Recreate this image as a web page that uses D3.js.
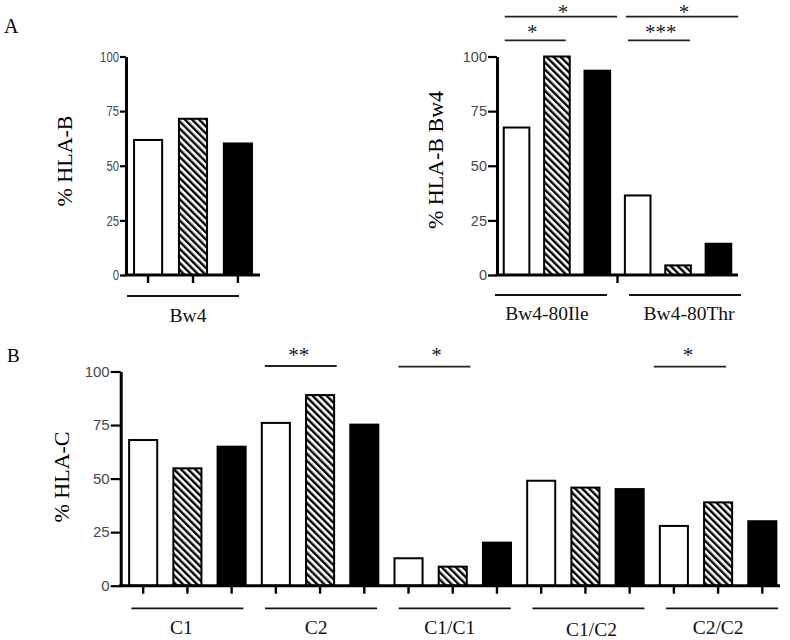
<!DOCTYPE html>
<html><head><meta charset="utf-8">
<script src="https://cdn.jsdelivr.net/npm/d3@7"></script>
<style>body{margin:0;background:#fff}</style>
</head><body>
<svg id="chart" width="790" height="640" xmlns="http://www.w3.org/2000/svg"></svg>
<script>
// ---------- data ----------
const yTicks = [0, 25, 50, 75, 100];
const seriesKeys = ["white", "hatched", "black"];

const groupsA1 = ["Bw4"];
const whiteA1 = [61.8];
const hatchedA1 = [71.5];
const blackA1 = [60.2];

const groupsA2 = ["Bw4-80Ile", "Bw4-80Thr"];
const whiteA2 = [67.5, 36.4];
const hatchedA2 = [100, 4.4];
const blackA2 = [93.5, 14.3];

const groupsB = ["C1", "C2", "C1/C1", "C1/C2", "C2/C2"];
const whiteB = [68.0, 76.0, 12.8, 49.0, 27.9];
const hatchedB = [54.8, 89.0, 8.9, 45.8, 38.9];
const blackB = [64.9, 75.2, 20.1, 45.1, 30.1];

// significance marks: bar index range (from..to) and text
const sigTextA2 = ["*", "*", "*", "***"];
const sigFromA2 = [0, 0, 3, 3];
const sigToA2 = [2, 1, 5, 4];
const sigTextB = ["**", "*", "*"];
const sigFromB = [3, 6, 12];
const sigToB = [4, 7, 13];

// ---------- layout ----------
const svg = d3.select("#chart");
svg.append("rect").attr("width", 790).attr("height", 640).attr("fill", "#fff");

const defs = svg.append("defs");
const pat = defs.append("pattern").attr("id", "hatch")
  .attr("patternUnits", "userSpaceOnUse").attr("width", 5).attr("height", 5)
  .attr("patternTransform", "rotate(-45)");
pat.append("rect").attr("width", 5).attr("height", 5).attr("fill", "#fff");
pat.append("rect").attr("x", 0).attr("y", 0).attr("width", 2.4).attr("height", 5).attr("fill", "#000");

const serif = "'Liberation Serif','Times New Roman',serif";
const sans = "'Liberation Sans',Arial,sans-serif";

function drawPanel(cfg) {
  const g = svg.append("g");
  const keys = [];
  const bars = [];
  cfg.groups.forEach((grp, gi) => {
    seriesKeys.forEach((s, si) => {
      const k = grp + "|" + s;
      keys.push(k);
      bars.push({ key: k, series: s, value: cfg.series[si][gi] });
    });
  });
  const x = d3.scaleBand().domain(keys).range(cfg.bandRange)
    .paddingInner(cfg.pi).paddingOuter(cfg.po);
  const y = d3.scaleLinear().domain([0, 100]).range(cfg.yPx);
  const bw = x.bandwidth();

  // bars
  g.selectAll("rect.bar").data(bars).enter().append("rect")
    .attr("class", "bar")
    .attr("x", d => x(d.key) + 1)
    .attr("width", bw - 2)
    .attr("y", d => y(d.value))
    .attr("height", d => y(0) - y(d.value))
    .attr("fill", d => d.series === "white" ? "#fff" : d.series === "black" ? "#000" : "url(#hatch)")
    .attr("stroke", "#000").attr("stroke-width", 2);

  // y axis
  const ya = g.append("g").attr("transform", `translate(${cfg.axisX},0)`)
    .call(d3.axisLeft(y).tickValues(yTicks).tickSize(cfg.tickSize).tickSizeOuter(0).tickPadding(cfg.tickPad));
  ya.select(".domain").attr("stroke", "#000").attr("stroke-width", 3);
  ya.selectAll(".tick line").attr("stroke", "#000").attr("stroke-width", 2.2);
  ya.selectAll(".tick text").attr("fill", "#484848")
    .style("font-family", sans).style("font-size", cfg.tickFont + "px");
  if (cfg.squeeze) {
    ya.selectAll(".tick text")
      .attr("textLength", d => String(d).length * cfg.squeeze)
      .attr("lengthAdjust", "spacingAndGlyphs");
  }

  // x axis line
  g.append("line").attr("x1", cfg.axisX - 1.5).attr("x2", cfg.xEnd)
    .attr("y1", y(0)).attr("y2", y(0)).attr("stroke", "#000").attr("stroke-width", 3);

  // bottom ticks
  if (cfg.barTicks) {
    const xa = g.append("g").attr("transform", `translate(0,${y(0)})`)
      .call(d3.axisBottom(x).tickSize(8).tickFormat(""));
    xa.select(".domain").remove();
    xa.selectAll(".tick line").attr("stroke", "#000").attr("stroke-width", 2.4);
  } else {
    for (let gi = 1; gi < cfg.groups.length; gi++) {
      const prevEnd = x(cfg.groups[gi - 1] + "|black") + bw;
      const nextStart = x(cfg.groups[gi] + "|white");
      const tx = (prevEnd + nextStart) / 2;
      g.append("line").attr("x1", tx).attr("x2", tx).attr("y1", y(0)).attr("y2", y(0) + 8)
        .attr("stroke", "#000").attr("stroke-width", 2.4);
    }
  }

  // group lines and labels
  cfg.groups.forEach((grp, gi) => {
    const c = (x(grp + "|white") + x(grp + "|black") + bw) / 2;
    const lc = c + cfg.lineDx[gi];
    g.append("line").attr("x1", lc - 56).attr("x2", lc + 56)
      .attr("y1", cfg.lineY).attr("y2", cfg.lineY).attr("stroke", "#111").attr("stroke-width", 1.8);
    g.append("text").attr("x", c + cfg.labelDx[gi]).attr("y", cfg.labelY + (cfg.labelDy ? cfg.labelDy[gi] : 0))
      .attr("text-anchor", "middle").style("font-family", serif).style("font-size", "19.5px")
      .attr("fill", "#111").text(grp);
  });

  // y label
  g.append("text").attr("transform", `translate(${cfg.yLabelPos[0]},${cfg.yLabelPos[1]}) rotate(-90)`)
    .attr("dy", "0.35em").attr("text-anchor", "middle")
    .style("font-family", serif).style("font-size", "22px").attr("fill", "#000")
    .text(cfg.yLabel);

  // significance
  if (cfg.sigText) {
    cfg.sigText.forEach((t, i) => {
      const x1 = x(keys[cfg.sigFrom[i]]) + cfg.sigPad[i][0];
      const x2 = x(keys[cfg.sigTo[i]]) + bw + cfg.sigPad[i][1];
      const ly = cfg.sigLineY[i];
      g.append("line").attr("x1", x1).attr("x2", x2).attr("y1", ly).attr("y2", ly)
        .attr("stroke", "#222").attr("stroke-width", 1.8);
      g.append("text").attr("x", (x1 + x2) / 2 + cfg.sigDx[i]).attr("y", cfg.sigTextY[i])
        .attr("text-anchor", "middle").style("font-family", serif).style("font-size", "21px")
        .attr("fill", "#222").text(t);
    });
  }
}

drawPanel({
  groups: groupsA1, series: [whiteA1, hatchedA1, blackA1],
  bandRange: [126, 260], pi: 0.33, po: 0.157, axisX: 126, xEnd: 260,
  yPx: [275, 56.5], tickSize: 6, tickPad: 1, tickFont: 15, squeeze: 6.3,
  barTicks: true, lineY: 296, lineDx: [-10], labelY: 321.5, labelDx: [-5],
  yLabel: "% HLA-B", yLabelPos: [64, 161]
});

drawPanel({
  groups: groupsA2, series: [whiteA2, hatchedA2, blackA2],
  bandRange: [496.7, 738.3], pi: 0.316, po: 0.15, axisX: 497, xEnd: 738,
  yPx: [275, 56.5], tickSize: 9, tickPad: 1, tickFont: 14.5,
  barTicks: false, lineY: 295, lineDx: [-6, 7], labelY: 319.5, labelDx: [-10, 11],
  yLabel: "% HLA-B Bw4", yLabelPos: [435, 160],
  sigText: sigTextA2, sigFrom: sigFromA2, sigTo: sigToA2,
  sigPad: [[2, 6], [2, -5], [2, 6], [4, -2]],
  sigLineY: [16.7, 40.3, 16.7, 40.3], sigTextY: [18.5, 38.5, 18.5, 38.5], sigDx: [2, -3, 2, 2]
});

drawPanel({
  groups: groupsB, series: [whiteB, hatchedB, blackB],
  bandRange: [121.5, 784], pi: 0.32, po: 0.15, axisX: 120.7, xEnd: 780,
  yPx: [585.7, 371.5], tickSize: 10, tickPad: 1, tickFont: 15,
  barTicks: true, lineY: 608.3, lineDx: [0, 1, 2, 3, 4], labelY: 633.5,
  labelDx: [-6, -4, -3, 6, 0], labelDy: [0, 0, 0, 2, 0],
  yLabel: "% HLA-C", yLabelPos: [61, 477],
  sigText: sigTextB, sigFrom: sigFromB, sigTo: sigToB,
  sigPad: [[4, 1.6], [5, 2.6], [-5, -7]],
  sigLineY: [366, 366.7, 366.7], sigTextY: [362, 362, 362], sigDx: [-2, 2, -2]
});

// panel letters
svg.append("text").attr("x", 4).attr("y", 33).style("font-family", serif).style("font-size", "20px").text("A");
svg.append("text").attr("x", 7).attr("y", 362).style("font-family", serif).style("font-size", "19px").text("B");
</script>
</body></html>
